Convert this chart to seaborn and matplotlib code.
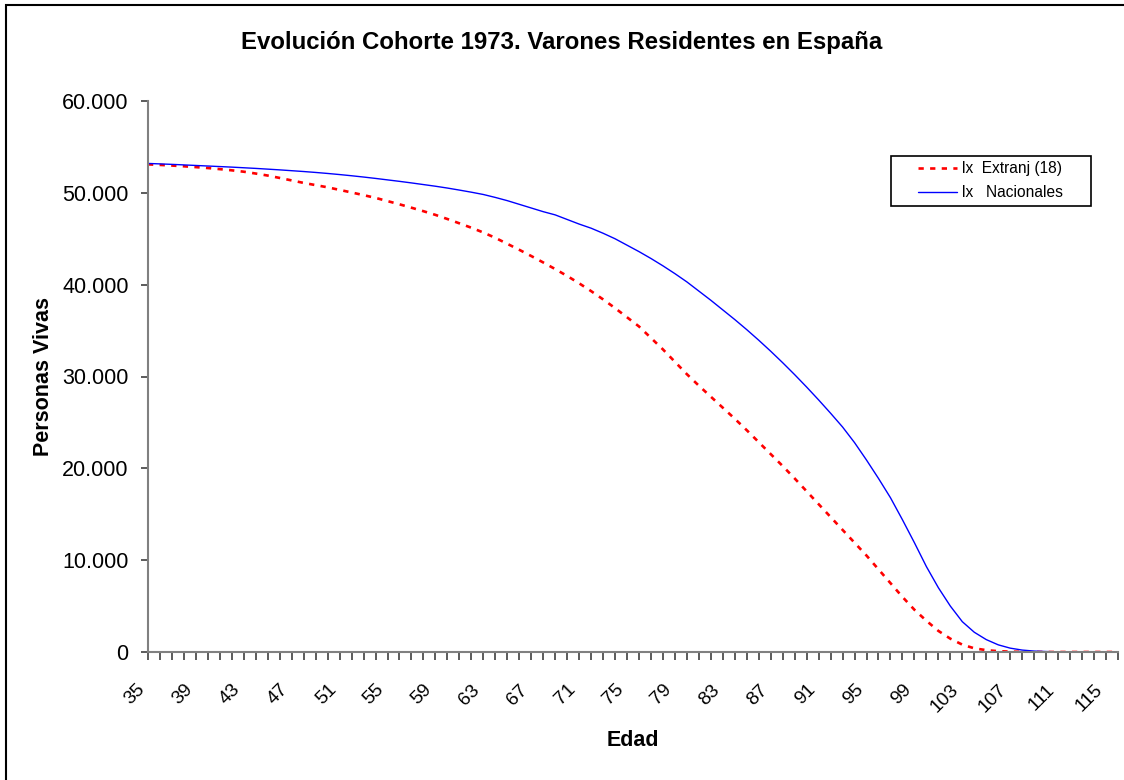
import numpy as np
import pandas as pd
import matplotlib
matplotlib.use("Agg")
import matplotlib.pyplot as plt
import matplotlib.ticker as mticker
from matplotlib.patches import Rectangle
import seaborn as sns

# Data (persons alive, by age)
ages = list(range(35, 117))

extranj = [
    53.10, 53.04, 52.97, 52.89, 52.80, 52.70, 52.58, 52.45, 52.30, 52.10,   # 35-44
    51.88, 51.62, 51.35, 51.08, 50.84, 50.60, 50.32, 50.04, 49.75, 49.45,   # 45-54
    49.10, 48.75, 48.38, 48.00, 47.60, 47.15, 46.68, 46.20, 45.68, 45.10,   # 55-64
    44.45, 43.80, 43.12, 42.42, 41.70, 40.95, 40.15, 39.30, 38.40, 37.45,   # 65-74
    36.45, 35.45, 34.20, 32.95, 31.60, 30.25, 29.00, 27.80, 26.60, 25.40,   # 75-84
    24.15, 22.85, 21.55, 20.25, 18.90, 17.50, 16.10, 14.70, 13.30, 11.90,   # 85-94
    10.50, 9.00, 7.50, 6.00, 4.60, 3.40, 2.30, 1.45, 0.80, 0.40,            # 95-104
    0.20, 0.09, 0.04, 0.02, 0.01, 0.0, 0.0, 0.0, 0.0, 0.0,                  # 105-114
    0.0, 0.0,                                                               # 115-116
]

nacionales = [
    53.20, 53.15, 53.10, 53.04, 52.98, 52.92, 52.86, 52.80, 52.73, 52.66,   # 35-44
    52.58, 52.50, 52.41, 52.32, 52.22, 52.11, 51.99, 51.86, 51.72, 51.57,   # 45-54
    51.41, 51.25, 51.08, 50.90, 50.72, 50.52, 50.30, 50.07, 49.82, 49.50,   # 55-64
    49.15, 48.75, 48.35, 47.95, 47.60, 47.10, 46.60, 46.15, 45.60, 45.00,   # 65-74
    44.30, 43.60, 42.85, 42.05, 41.20, 40.30, 39.30, 38.30, 37.25, 36.20,   # 75-84
    35.10, 33.95, 32.75, 31.50, 30.20, 28.85, 27.45, 26.00, 24.50, 22.80,   # 85-94
    20.90, 18.90, 16.80, 14.40, 11.90, 9.30, 7.00, 5.00, 3.30, 2.15,        # 95-104
    1.35, 0.78, 0.42, 0.21, 0.10, 0.05, 0.02, 0.01, 0.0, 0.0,               # 105-114
    0.0, 0.0,                                                               # 115-116
]

label_ext = "lx  Extranj (18)"
label_nac = "lx   Nacionales"
y_ticks = [0, 10000, 20000, 30000, 40000, 50000, 60000]
x_labels = list(range(35, 116, 4))

df = pd.DataFrame({
    "edad": ages,
    "extranj": np.array(extranj) * 1000,
    "nacionales": np.array(nacionales) * 1000,
})

sns.set_style("white")
plt.rcParams["font.family"] = ["Liberation Sans", "DejaVu Sans"]
plt.rcParams["text.color"] = "black"
plt.rcParams["axes.labelcolor"] = "black"

W, H = 1124, 780
fig = plt.figure(figsize=(W / 100, H / 100), dpi=100)
ax = fig.add_axes([148 / W, 1 - 652 / H, (1118 - 148) / W, (652 - 101) / H])

sns.lineplot(data=df, x="edad", y="extranj", ax=ax, color="#FF0000",
             linewidth=1.9, dashes=False, label=label_ext)
ax.lines[-1].set_dashes((2.0, 2.4))
sns.lineplot(data=df, x="edad", y="nacionales", ax=ax, color="#0000FF",
             linewidth=1.0, label=label_nac)

ax.set_xlim(35, 116)
ax.set_ylim(0, 60000)

# axes look (Excel style)
for s in ["top", "right"]:
    ax.spines[s].set_visible(False)
for s in ["left", "bottom"]:
    ax.spines[s].set_color("#808080")
    ax.spines[s].set_linewidth(1.5)

ax.set_yticks(y_ticks)
ax.yaxis.set_major_formatter(mticker.FuncFormatter(
    lambda v, p: f"{int(v):,}".replace(",", ".")))
ax.tick_params(axis="y", direction="out", length=5, width=1.2, color="#404040",
               labelcolor="black", labelsize=15.5, pad=9, left=True)

ax.set_xticks(x_labels)
ax.set_xticklabels([str(a) for a in x_labels], rotation=45, ha="right")
ax.xaxis.set_minor_locator(mticker.MultipleLocator(1))
ax.tick_params(axis="x", which="both", direction="out", length=6, width=1.2,
               color="#404040", labelcolor="black", bottom=True)
ax.tick_params(axis="x", which="major", labelsize=13.8, pad=15)

ax.set_xlabel("Edad", fontsize=15.5, fontweight="bold", labelpad=10)
ax.set_ylabel("Personas Vivas", fontsize=15.5, fontweight="bold", labelpad=6)

fig.text(0.5, 1 - 43 / H, "Evolución Cohorte 1973. Varones Residentes en España",
         ha="center", va="center", fontsize=17.3, fontweight="bold")

# legend: entries without frame, frame drawn separately
leg = ax.legend(loc="upper left", bbox_to_anchor=(918 / W, 1 - 161 / H),
                bbox_transform=fig.transFigure, frameon=False, fontsize=11.2,
                borderpad=0, borderaxespad=0, handlelength=2.5,
                handletextpad=0.35, labelspacing=0.6)
for t in leg.get_texts():
    t.set_color("black")
fig.patches.append(Rectangle((891 / W, 1 - 206 / H), 200 / W, 50 / H,
                             transform=fig.transFigure, fill=False,
                             edgecolor="black", linewidth=1.2))

# outer chart border
fig.patches.append(Rectangle((6 / W, -0.05), 1.2, 1 - 5 / H + 0.05,
                             transform=fig.transFigure, fill=False,
                             edgecolor="black", linewidth=1.5))

fig.savefig("out.png", dpi=100)
